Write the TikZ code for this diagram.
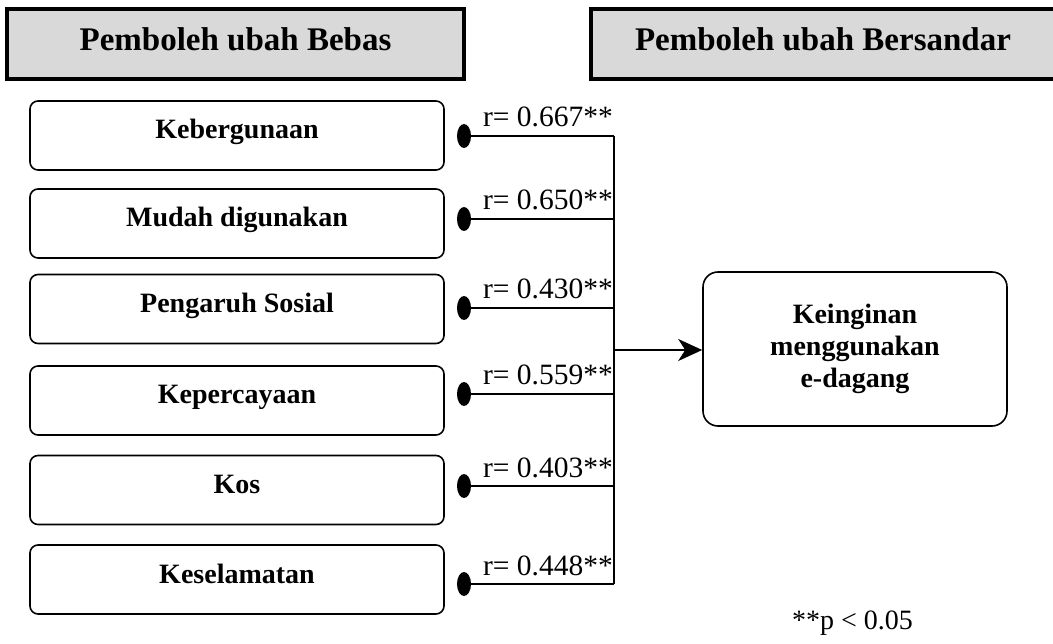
\documentclass[tikz,border=0pt]{standalone}
\usepackage{fontspec}
\setmainfont{Liberation Serif}
\usetikzlibrary{arrows.meta,shapes.geometric}
\begin{document}
\begin{tikzpicture}[x=1pt,y=-1pt,
  hdr/.style={draw, line width=3.2pt, fill=black!15, minimum height=70pt, inner sep=0pt,
    text height=23pt, text depth=10pt, font=\fontsize{33}{38}\selectfont\bfseries},
  ivbox/.style={draw, line width=1.6pt, rounded corners=8pt, minimum width=414pt, minimum height=69pt,
    inner sep=0pt, text height=20pt, text depth=13pt, font=\fontsize{28}{32}\selectfont\bfseries},
  dvbox/.style={draw, line width=1.6pt, rounded corners=15pt, minimum width=304pt, minimum height=154pt,
    inner sep=0pt, align=center, font=\fontsize{28}{32}\selectfont\bfseries},
  dot/.style={ellipse, fill=black, minimum width=14pt, minimum height=24pt, inner sep=0pt},
  rlab/.style={inner sep=0pt, anchor=base east, font=\fontsize{29.5}{32}\selectfont},
  conn/.style={line width=1.6pt},
]
\useasboundingbox (0,0) rectangle (1053,644);

\node[hdr, minimum width=457pt] (h1) at (235.5,44) {Pemboleh ubah Bebas};
\node[hdr, minimum width=464pt] (h2) at (823,44) {Pemboleh ubah Bersandar};

\node[ivbox] (b1) at (237,135.5) {Kebergunaan};
\node[ivbox] (b2) at (237,223.5) {Mudah digunakan};
\node[ivbox] (b3) at (237,309) {Pengaruh Sosial};
\node[ivbox] (b4) at (237,400.5) {Kepercayaan};
\node[ivbox] (b5) at (237,490) {Kos};
\node[ivbox] (b6) at (237,579.5) {Keselamatan};

\node[dvbox] (t) at (855,349) {Keinginan\\menggunakan\\e-dagang};

\foreach \i/\y in {1/136,2/219,3/308,4/394,5/486,6/584}{
  \node[dot] (d\i) at (464,\y) {};
  \coordinate (j\i) at (614,\y);
  \draw[conn] (d\i.center) -- (j\i);
}
\draw[conn] (j1) -- (j6);
\coordinate (ja) at (614,350);
\draw[conn, -{Stealth[length=24pt, width=22pt, inset=7pt]}] (ja) -- (t.west |- ja);

\node[rlab] (r1) at (613,127) {r= 0.667**};
\node[rlab] (r2) at (613,210) {r= 0.650**};
\node[rlab] (r3) at (613,299) {r= 0.430**};
\node[rlab] (r4) at (613,385) {r= 0.559**};
\node[rlab] (r5) at (613,477) {r= 0.403**};
\node[rlab] (r6) at (613,575) {r= 0.448**};

\node[inner sep=0pt, anchor=base west, font=\fontsize{28}{30}\selectfont] (fn) at (792,629) {**p < 0.05};
\end{tikzpicture}
\end{document}
